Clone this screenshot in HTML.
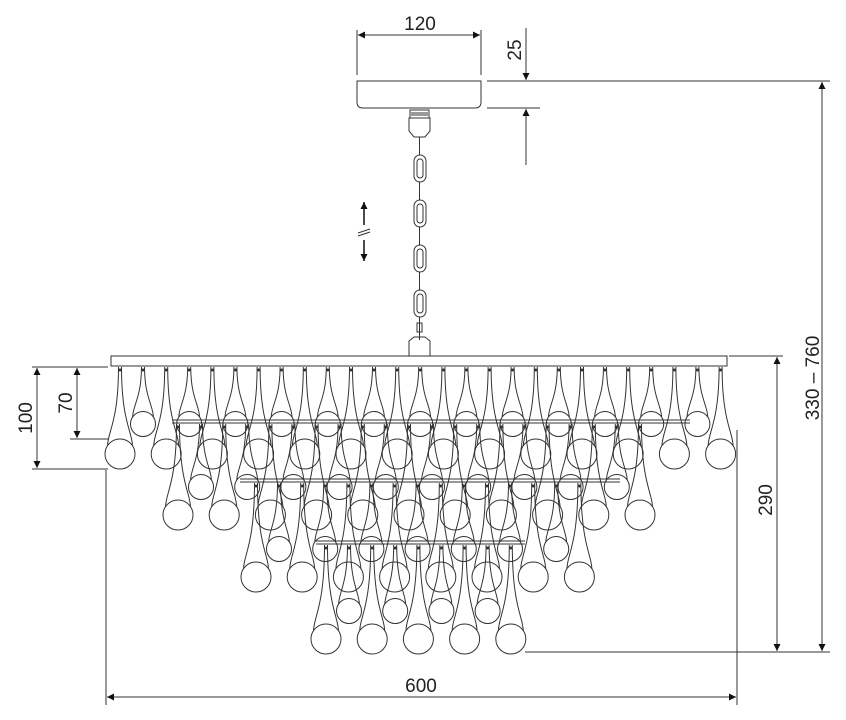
<!DOCTYPE html>
<html><head><meta charset="utf-8"><style>
html,body{margin:0;padding:0;background:#fff;}
svg{display:block}
text{font-family:"Liberation Sans",sans-serif;fill:#222;font-size:19px}
</style></head><body>
<svg id="s" width="846" height="720" viewBox="0 0 846 720" xmlns="http://www.w3.org/2000/svg" stroke="#333" stroke-width="1" fill="none">
<defs>
<marker id="a" viewBox="0 0 10 10" refX="10" refY="5" markerWidth="14" markerHeight="7" orient="auto-start-reverse" markerUnits="userSpaceOnUse"><path d="M0,0 L10,5 L0,10 z" fill="#111" stroke="none"/></marker>
</defs>
<path d="M357,81 H481 V102 Q481,108 475,108 H363 Q357,108 357,102 Z"/>
<line x1="357" y1="30" x2="357" y2="75"/>
<line x1="481" y1="30" x2="481" y2="75"/>
<line x1="358" y1="35" x2="480" y2="35" marker-start="url(#a)" marker-end="url(#a)"/>
<text x="420" y="30" text-anchor="middle" stroke="none">120</text>
<line x1="487" y1="81" x2="830" y2="81"/>
<line x1="487" y1="108" x2="540" y2="108"/>
<line x1="526" y1="28" x2="526" y2="80" marker-end="url(#a)"/>
<line x1="526" y1="165" x2="526" y2="109" marker-end="url(#a)"/>
<text transform="translate(521,50) rotate(-90)" text-anchor="middle" stroke="none">25</text>
<line x1="822" y1="82" x2="822" y2="651" marker-start="url(#a)" marker-end="url(#a)"/>
<text transform="translate(819,378) rotate(-90)" text-anchor="middle" stroke="none">330 – 760</text>
<line x1="729" y1="356" x2="783" y2="356"/>
<line x1="777" y1="357" x2="777" y2="651" marker-start="url(#a)" marker-end="url(#a)"/>
<text transform="translate(772,500) rotate(-90)" text-anchor="middle" stroke="none">290</text>
<line x1="525" y1="652" x2="830" y2="652"/>
<line x1="106" y1="470" x2="106" y2="705"/>
<line x1="737" y1="430" x2="737" y2="705"/>
<line x1="107" y1="697" x2="736" y2="697" marker-start="url(#a)" marker-end="url(#a)"/>
<text x="421" y="692" text-anchor="middle" stroke="none">600</text>
<line x1="32" y1="367" x2="108" y2="367"/>
<line x1="70" y1="439" x2="108" y2="439"/>
<line x1="32" y1="469" x2="108" y2="469"/>
<line x1="37" y1="368" x2="37" y2="468" marker-start="url(#a)" marker-end="url(#a)"/>
<line x1="77" y1="368" x2="77" y2="438" marker-start="url(#a)" marker-end="url(#a)"/>
<text transform="translate(32,418) rotate(-90)" text-anchor="middle" stroke="none">100</text>
<text transform="translate(72,403) rotate(-90)" text-anchor="middle" stroke="none">70</text>
<rect x="410" y="110" width="19" height="8"/>
<line x1="411" y1="113" x2="428" y2="113"/><line x1="411" y1="115" x2="428" y2="115"/>
<path d="M409,118 H430 V131 L425,137 H414 L409,131 Z"/>
<line x1="419.5" y1="137" x2="419.5" y2="155"/>
<line x1="419.5" y1="182" x2="419.5" y2="200"/>
<line x1="419.5" y1="227" x2="419.5" y2="245"/>
<line x1="419.5" y1="272" x2="419.5" y2="290"/>
<line x1="419.5" y1="317" x2="419.5" y2="340"/>
<rect x="414" y="155" width="12" height="27" rx="6"/><rect x="417" y="159" width="6" height="19" rx="3"/>
<rect x="414" y="200" width="12" height="27" rx="6"/><rect x="417" y="204" width="6" height="19" rx="3"/>
<rect x="414" y="245" width="12" height="27" rx="6"/><rect x="417" y="249" width="6" height="19" rx="3"/>
<rect x="414" y="290" width="12" height="27" rx="6"/><rect x="417" y="294" width="6" height="19" rx="3"/>
<rect x="417" y="323" width="5" height="9"/>
<path d="M409,356 V341 L414,337 H425 L430,341 V356"/>
<line x1="364" y1="225" x2="364" y2="202" stroke="#111" stroke-width="1.5" marker-end="url(#a)"/>
<line x1="364" y1="240" x2="364" y2="261" stroke="#111" stroke-width="1.5" marker-end="url(#a)"/>
<line x1="358" y1="233" x2="370" y2="229"/><line x1="358" y1="236" x2="370" y2="232"/>
<rect x="111" y="356" width="616" height="10"/>
<line x1="172" y1="420" x2="690" y2="420"/><line x1="172" y1="423" x2="690" y2="423"/>
<line x1="240" y1="479" x2="620" y2="479"/><line x1="240" y1="482" x2="620" y2="482"/>
<line x1="316" y1="541" x2="525" y2="541"/><line x1="316" y1="544" x2="525" y2="544"/>
<g id="d"></g>
</svg>
<script>
var g=document.getElementById('d'),h='';
function drop(x,top,cy,r){
 var ey=cy-r*0.55, ex=r*0.83;
 h+='<path d="M'+(x-1.5)+','+top+' C'+(x-1.5)+','+(ey-r*1.6)+' '+(x-ex)+','+(ey-r*0.9)+' '+(x-ex)+','+ey+'"/>';
 h+='<path d="M'+(x+1.5)+','+top+' C'+(x+1.5)+','+(ey-r*1.6)+' '+(x+ex)+','+(ey-r*0.9)+' '+(x+ex)+','+ey+'"/>';
 h+='<circle cx="'+x+'" cy="'+cy+'" r="'+r+'"/>';
 h+='<circle cx="'+x+'" cy="'+(top+3)+'" r="1" fill="#333"/>';
}
function row(x0,x1,top,cy,r){for(var x=x0;x<=x1+1;x+=46.2)drop(Math.round(x*10)/10,top,cy,r);}
row(120,720,367,454,15);
row(143,697,367,424,12.5);
row(178,640,424,515,15);
row(201,617,424,487,12.5);
row(256,579,483,577,15);
row(279,556,483,549,12.5);
row(326,510,545,639,15);
row(349,487,545,611,12.5);
g.innerHTML=h;
</script>
</body></html>
